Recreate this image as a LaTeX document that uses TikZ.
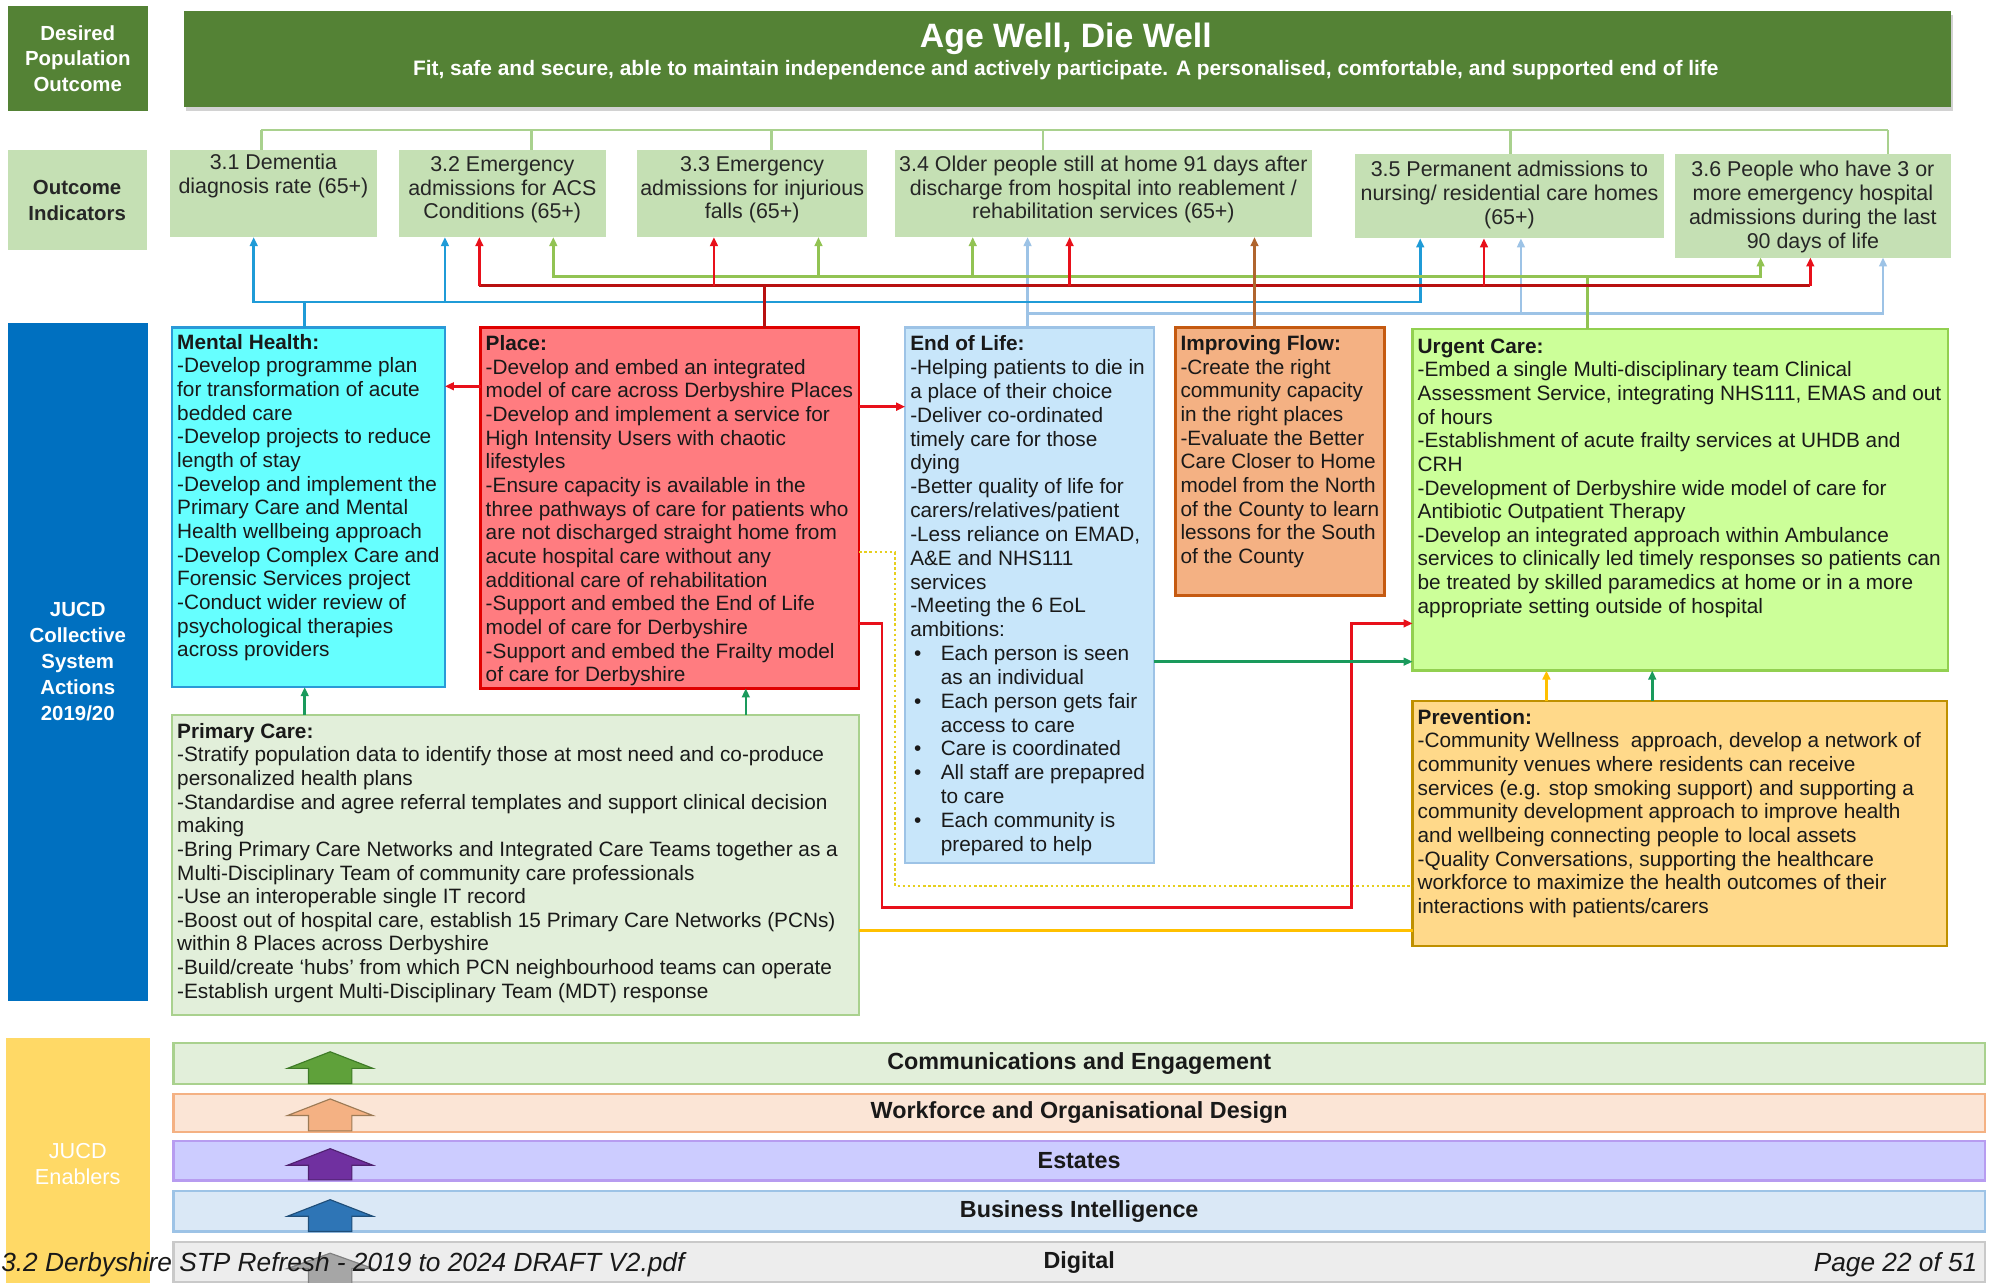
\documentclass[tikz,border=0pt]{standalone}
\usepackage{fontspec}
\setmainfont{Liberation Sans}
\usetikzlibrary{arrows.meta,shadows}

% panel colours
\definecolor{bannerGreen}{HTML}{548235}
\definecolor{indGreen}{HTML}{C5E0B4}
\definecolor{treeGreen}{HTML}{A9D18E}
\definecolor{jucdBlue}{HTML}{0070C0}
\definecolor{mhFill}{HTML}{66FFFF}
\definecolor{mhLine}{HTML}{2A9AD8}
\definecolor{plFill}{HTML}{FF7C80}
\definecolor{plLine}{HTML}{E00000}
\definecolor{eolFill}{HTML}{C8E6FA}
\definecolor{eolLine}{HTML}{9DC3E6}
\definecolor{ifFill}{HTML}{F4B183}
\definecolor{ifLine}{HTML}{C55A11}
\definecolor{ucFill}{HTML}{CCFF99}
\definecolor{ucLine}{HTML}{92D050}
\definecolor{pvFill}{HTML}{FFD98A}
\definecolor{pvLine}{HTML}{BF9000}
\definecolor{pcFill}{HTML}{E2EFDA}
\definecolor{pcLine}{HTML}{A9D18E}
\definecolor{enFill}{HTML}{FFD966}
% enabler bars and their arrows
\definecolor{commFill}{HTML}{E2EFDA}
\definecolor{commLine}{HTML}{A9D18E}
\definecolor{workFill}{HTML}{FBE5D6}
\definecolor{workLine}{HTML}{F4B183}
\definecolor{estFill}{HTML}{CCCCFF}
\definecolor{estLine}{HTML}{B79CF0}
\definecolor{biFill}{HTML}{DAE8F6}
\definecolor{biLine}{HTML}{9DC3E6}
\definecolor{digFill}{HTML}{EDEDED}
\definecolor{digLine}{HTML}{C9C9C9}
\definecolor{commArrow}{HTML}{5FA13A}
\definecolor{commArrowLine}{HTML}{3E7B27}
\definecolor{workArrow}{HTML}{F4B183}
\definecolor{workArrowLine}{HTML}{9C7A55}
\definecolor{estArrow}{HTML}{7030A0}
\definecolor{estArrowLine}{HTML}{4F2170}
\definecolor{biArrow}{HTML}{2E75B6}
\definecolor{biArrowLine}{HTML}{1F4E79}
\definecolor{digArrow}{HTML}{A6A6A6}
\definecolor{digArrowLine}{HTML}{7F7F7F}
% connector colours
\definecolor{lnBlue}{HTML}{1F9BD7}
\definecolor{lnRed}{HTML}{B81010}
\definecolor{lnRedTip}{HTML}{E8101A}
\definecolor{lnLime}{HTML}{92C353}
\definecolor{lnSky}{HTML}{9DC3E6}
\definecolor{lnBrown}{HTML}{B0652E}
\definecolor{lnTeal}{HTML}{1A9A5C}
\definecolor{lnAmber}{HTML}{FFC000}
\definecolor{lnDot}{HTML}{E6CF1E}

% block arrow drawn on each enabler bar
\newcommand\enablerarrow[5]{%
  \filldraw[fill=#4, draw=#5, line width=0.9pt]
    (259,#1) -- (292.5,#2) -- (276,#2) -- (276,#3) -- (242,#3) -- (242,#2) -- (225.5,#2) -- cycle;}

\begin{document}
\begin{tikzpicture}[x=1pt,y=-1pt,
  every node/.style={inner sep=0pt,outer sep=0pt},
  panel/.style={anchor=north west, line width=1.8pt},
  flatbox/.style={anchor=north west},
  bodytxt/.style={anchor=north west, align=left, text=black!90, font=\fontsize{16.3}{18.55}\selectfont},
  indtxt/.style={anchor=north, align=center, text=black!85, font=\fontsize{16.8}{18.8}\selectfont},
  sidetxt/.style={align=center, font=\bfseries\fontsize{16}{20.3}\selectfont},
  enbar/.style={anchor=north west, line width=1.8pt, minimum width=1421pt, font=\bfseries\fontsize{18.3}{20}\selectfont, text=black!90},
  lnk/.style={line width=2pt},
  tipped/.style={-{Triangle[length=7pt,width=6pt]}},
  tree/.style={draw=treeGreen, line width=2pt},
]
\useasboundingbox (0,0) rectangle (1568,1006);
\fill[white] (0,0) rectangle (1568,1006);

% ---------- left-hand row labels ----------
\node[flatbox, fill=bannerGreen, minimum width=110pt, minimum height=82pt] (desired) at (6,5) {};
\node[sidetxt, text=white] (desiredtxt) at (desired.center) {Desired\\Population\\Outcome};
\node[flatbox, fill=indGreen, minimum width=109pt, minimum height=78pt] (outind) at (6,118) {};
\node[sidetxt, text=black!85] (outindtxt) at (outind.center) {Outcome\\Indicators};
\node[flatbox, fill=jucdBlue, minimum width=110pt, minimum height=532pt] (jucd) at (6,253) {};
\node[sidetxt, text=white] (jucdtxt) at (jucd.center) {JUCD\\Collective\\System\\Actions\\2019/20};
\node[flatbox, fill=enFill, minimum width=113pt, minimum height=200pt] (enab) at (5,814) {};
\node[align=center, text=white, font=\fontsize{17}{21}\selectfont] (enabtxt) at (61,913) {JUCD\\Enablers};

% ---------- population outcome banner ----------
\node[flatbox, fill=bannerGreen, minimum width=1386pt, minimum height=75pt,
      drop shadow={shadow xshift=2pt, shadow yshift=-3pt, opacity=0.35}] (banner) at (144,9) {};
\node[anchor=base, text=white, font=\bfseries\fontsize{26.5}{30}\selectfont] (title) at (836,37) {Age Well, Die Well};
\node[anchor=base, text=white, font=\bfseries\fontsize{16.4}{19}\selectfont] (subtitle) at (836,59)
  {Fit, safe and secure, able to maintain independence and actively participate. A personalised, comfortable, and supported end of life};

% ---------- outcome indicators ----------
\node[flatbox, fill=indGreen, minimum width=163pt, minimum height=68pt] (i31) at (133,118) {};
\node[flatbox, fill=indGreen, minimum width=162pt, minimum height=68pt] (i32) at (313,118) {};
\node[flatbox, fill=indGreen, minimum width=180pt, minimum height=68pt] (i33) at (500,118) {};
\node[flatbox, fill=indGreen, minimum width=327pt, minimum height=68pt] (i34) at (702,118) {};
\node[flatbox, fill=indGreen, minimum width=242pt, minimum height=66pt] (i35) at (1063,121) {};
\node[flatbox, fill=indGreen, minimum width=216pt, minimum height=81pt] (i36) at (1314,121) {};
\node[indtxt] (i31txt) at (214.5,120) {\strut 3.1 Dementia\\diagnosis rate (65+)};
\node[indtxt] (i32txt) at (394,121) {\strut 3.2 Emergency\\admissions for ACS\\Conditions (65+)};
\node[indtxt] (i33txt) at (590,121) {\strut 3.3 Emergency\\admissions for injurious\\falls (65+)};
\node[indtxt] (i34txt) at (865.5,121) {\strut 3.4 Older people still at home 91 days after\\discharge from hospital into reablement /\\rehabilitation services (65+)};
\node[indtxt] (i35txt) at (1184,125) {\strut 3.5 Permanent admissions to\\nursing/ residential care homes\\(65+)};
\node[indtxt] (i36txt) at (1422,125) {\strut 3.6 People who have 3 or\\more emergency hospital\\admissions during the last\\90 days of life};

% tree from the outcome down to each indicator
\coordinate (t31) at (205,102);
\coordinate (t32) at (417,102);
\coordinate (t33) at (605,102);
\coordinate (t34) at (818,102);
\coordinate (t35) at (1185,102);
\coordinate (t36) at (1481,102);
\draw[tree] (t31) -- (t36);
\draw[tree] (t31) -- (t31 |- i31.north);
\draw[tree] (t32) -- (t32 |- i32.north);
\draw[tree] (t33) -- (t33 |- i33.north);
\draw[tree] (t34) -- (t34 |- i34.north);
\draw[tree] (t35) -- (t35 |- i35.north);
\draw[tree] (t36) -- (t36 |- i36.north);

% ---------- collective system action panels ----------
\node[panel, fill=mhFill, draw=mhLine, minimum width=214pt, minimum height=282pt] (mh) at (135,257) {};
\node[panel, fill=plFill, draw=plLine, minimum width=297pt, minimum height=283pt] (pl) at (377,257) {};
\node[panel, fill=eolFill, draw=eolLine, minimum width=195pt, minimum height=420pt] (eol) at (710,257) {};
\node[panel, fill=ifFill, draw=ifLine, minimum width=164pt, minimum height=210pt] (fl) at (922,257) {};
\node[panel, fill=ucFill, draw=ucLine, minimum width=420pt, minimum height=268pt] (urg) at (1108,258) {};
\node[panel, fill=pvFill, draw=pvLine, minimum width=419pt, minimum height=192pt] (prev) at (1108,550) {};
\node[panel, fill=pcFill, draw=pcLine, minimum width=539pt, minimum height=235pt] (pc) at (135,561) {};

\node[bodytxt] (mhtxt) at (139,261) {\strut\textbf{Mental Health:}\\
-Develop programme plan\\
for transformation of acute\\
bedded care\\
-Develop projects to reduce\\
length of stay\\
-Develop and implement the\\
Primary Care and Mental\\
Health wellbeing approach\\
-Develop Complex Care and\\
Forensic Services project\\
-Conduct wider review of\\
psychological therapies\\
across providers};

\node[bodytxt] (pltxt) at (381,262) {\strut\textbf{Place:}\\
-Develop and embed an integrated\\
model of care across Derbyshire Places\\
-Develop and implement a service for\\
High Intensity Users with chaotic\\
lifestyles\\
-Ensure capacity is available in the\\
three pathways of care for patients who\\
are not discharged straight home from\\
acute hospital care without any\\
additional care of rehabilitation\\
-Support and embed the End of Life\\
model of care for Derbyshire\\
-Support and embed the Frailty model\\
of care for Derbyshire};

\node[bodytxt, font=\fontsize{16.3}{18.7}\selectfont] (eoltxt) at (714,262) {\strut\textbf{End of Life:}\\
-Helping patients to die in\\
a place of their choice\\
-Deliver co-ordinated\\
timely care for those\\
dying\\
-Better quality of life for\\
carers/relatives/patient\\
-Less reliance on EMAD,\\
A\&E and NHS111\\
services\\
-Meeting the 6 EoL\\
ambitions:\\
\makebox[24pt][l]{\hspace{3pt}\textbullet}Each person is seen\\
\hspace*{24pt}as an individual\\
\makebox[24pt][l]{\hspace{3pt}\textbullet}Each person gets fair\\
\hspace*{24pt}access to care\\
\makebox[24pt][l]{\hspace{3pt}\textbullet}Care is coordinated\\
\makebox[24pt][l]{\hspace{3pt}\textbullet}All staff are prepapred\\
\hspace*{24pt}to care\\
\makebox[24pt][l]{\hspace{3pt}\textbullet}Each community is\\
\hspace*{24pt}prepared to help};

\node[bodytxt] (fltxt) at (926,262) {\strut\textbf{Improving Flow:}\\
-Create the right\\
community capacity\\
in the right places\\
-Evaluate the Better\\
Care Closer to Home\\
model from the North\\
of the County to learn\\
lessons for the South\\
of the County};

\node[bodytxt] (urgtxt) at (1112,264) {\strut\textbf{Urgent Care:}\\
-Embed a single Multi-disciplinary team Clinical\\
Assessment Service, integrating NHS111, EMAS and out\\
of hours\\
-Establishment of acute frailty services at UHDB and\\
CRH\\
-Development of Derbyshire wide model of care for\\
Antibiotic Outpatient Therapy\\
-Develop an integrated approach within Ambulance\\
services to clinically led timely responses so patients can\\
be treated by skilled paramedics at home or in a more\\
appropriate setting outside of hospital};

\node[bodytxt] (prevtxt) at (1112,555) {\strut\textbf{Prevention:}\\
-Community Wellness\ \ approach, develop a network of\\
community venues where residents can receive\\
services (e.g. stop smoking support) and supporting a\\
community development approach to improve health\\
and wellbeing connecting people to local assets\\
-Quality Conversations, supporting the healthcare\\
workforce to maximize the health outcomes of their\\
interactions with patients/carers};

\node[bodytxt] (pctxt) at (139,566) {\strut\textbf{Primary Care:}\\
-Stratify population data to identify those at most need and co-produce\\
personalized health plans\\
-Standardise and agree referral templates and support clinical decision\\
making\\
-Bring Primary Care Networks and Integrated Care Teams together as a\\
Multi-Disciplinary Team of community care professionals\\
-Use an interoperable single IT record\\
-Boost out of hospital care, establish 15 Primary Care Networks (PCNs)\\
within 8 Places across Derbyshire\\
-Build/create ‘hubs’ from which PCN neighbourhood teams can operate\\
-Establish urgent Multi-Disciplinary Team (MDT) response};

% ---------- links from actions up to the indicators ----------
% End of Life (light blue)
\coordinate (lT) at (806,246);
\coordinate (lA) at (1193,246);
\coordinate (lB) at (1477,246);
\draw[lnk, lnSky, tipped] (lT |- eol.north) -- (lT |- i34.south);
\draw[lnk, lnSky, tipped] (lT |- eol.north) -- (lT) -- (lA) -- (lA |- i35.south);
\draw[lnk, lnSky, tipped] (lT |- eol.north) -- (lT) -- (lB) -- (lB |- i36.south);
% Mental Health (blue)
\coordinate (bT) at (239,237);
\coordinate (bA) at (199,237);
\coordinate (bB) at (349,237);
\coordinate (bC) at (1114,237);
\draw[lnk, lnBlue, tipped] (bT |- mh.north) |- (bA) -- (bA |- i31.south);
\draw[lnk, lnBlue, tipped] (bT |- mh.north) |- (bB) -- (bB |- i32.south);
\draw[lnk, lnBlue, tipped] (bT |- mh.north) |- (bC) -- (bC |- i35.south);
% Urgent Care (lime)
\coordinate (gT) at (1245,217);
\coordinate (gA) at (434,217);
\coordinate (gB) at (642,217);
\coordinate (gC) at (763,217);
\coordinate (gD) at (1381,217);
\draw[lnk, lnLime, tipped] (gT |- urg.north) |- (gA) -- (gA |- i32.south);
\draw[lnk, lnLime, tipped] (gT |- urg.north) |- (gB) -- (gB |- i33.south);
\draw[lnk, lnLime, tipped] (gT |- urg.north) |- (gC) -- (gC |- i34.south);
\draw[lnk, lnLime, tipped] (gT |- urg.north) |- (gD) -- (gD |- i36.south);
% Place (red)
\coordinate (rT) at (600,224);
\coordinate (rA) at (376,224);
\coordinate (rB) at (560,224);
\coordinate (rC) at (839,224);
\coordinate (rD) at (1164,224);
\coordinate (rE) at (1420,224);
\draw[lnk, lnRed, line width=2.4pt] (rT |- pl.north) -- (rT);
\draw[lnk, lnRed, line width=2.4pt] (rA) -- (rE);
\draw[lnk, lnRedTip, tipped] (rA) -- (rA |- i32.south);
\draw[lnk, lnRedTip, tipped] (rB) -- (rB |- i33.south);
\draw[lnk, lnRedTip, tipped] (rC) -- (rC |- i34.south);
\draw[lnk, lnRedTip, tipped] (rD) -- (rD |- i35.south);
\draw[lnk, lnRedTip, tipped] (rE) -- (rE |- i36.south);
% Improving Flow (brown)
\coordinate (fT) at (984,0);
\draw[lnk, lnBrown, tipped] (fT |- fl.north) -- (fT |- i34.south);

% ---------- links between action panels ----------
\coordinate (p1) at ([yshift=-46pt]pl.north west);
\coordinate (p2) at ([yshift=-62pt]pl.north east);
\coordinate (p3) at ([yshift=-176pt]pl.north east);
\coordinate (p4) at ([yshift=-232pt]pl.north east);
\coordinate (dq) at (702,695);
\coordinate (rq1) at (692,712);
\coordinate (rq2) at (1060,712);
\draw[lnk, lnRedTip, tipped] (p1) -- (p1 -| mh.east);
\draw[lnk, lnRedTip, tipped] (p2) -- (p2 -| eol.west);
\draw[lnDot, line width=2pt, dotted] (p3) -| (dq) -- (dq -| prev.west);
\draw[lnk, lnRedTip, tipped] (p4) -| (rq1) -- (rq2) |- (p4 -| urg.west);
\coordinate (e1) at (0,519);
\draw[lnk, lnTeal, tipped] (e1 -| eol.east) -- (e1 -| urg.west);
\coordinate (x1) at (239,0);
\coordinate (x2) at (585,0);
\draw[lnk, lnTeal, tipped] (x1 |- pc.north) -- (x1 |- mh.south);
\draw[lnk, lnTeal, tipped] (x2 |- pc.north) -- (x2 |- pl.south);
\coordinate (o1) at (0,730);
\draw[lnk, lnAmber] (o1 -| pc.east) -- (o1 -| prev.west);
\coordinate (x3) at (1213,0);
\coordinate (x4) at (1296,0);
\draw[lnk, lnAmber, tipped] (x3 |- prev.north) -- (x3 |- urg.south);
\draw[lnk, lnTeal, tipped] (x4 |- prev.north) -- (x4 |- urg.south);

% ---------- enablers ----------
\node[enbar, fill=commFill, draw=commLine, minimum height=32pt] (comm) at (136,818) {Communications and Engagement};
\node[enbar, fill=workFill, draw=workLine, minimum height=30pt] (work) at (136,858) {Workforce and Organisational Design};
\node[enbar, fill=estFill, draw=estLine, minimum height=31pt] (est) at (136,895) {Estates};
\node[enbar, fill=biFill, draw=biLine, minimum height=32pt] (bi) at (136,934) {Business Intelligence};
\node[enbar, fill=digFill, draw=digLine, minimum height=32pt] (dig) at (136,974) {Digital};
\enablerarrow{825}{838}{850}{commArrow}{commArrowLine}
\enablerarrow{862}{875}{887}{workArrow}{workArrowLine}
\enablerarrow{901}{914}{925.5}{estArrow}{estArrowLine}
\enablerarrow{941}{954}{966}{biArrow}{biArrowLine}
\enablerarrow{983}{995}{1012}{digArrow}{digArrowLine}

% ---------- page footer ----------
\node[anchor=base west, font=\itshape\fontsize{20.6}{24}\selectfont, text=black!90] (docname) at (1,997)
  {3.2 Derbyshire STP Refresh - 2019 to 2024 DRAFT V2.pdf};
\node[anchor=base east, font=\itshape\fontsize{20.6}{24}\selectfont, text=black!90] (pageno) at (1551,997)
  {Page 22 of 51};
\end{tikzpicture}
\end{document}
